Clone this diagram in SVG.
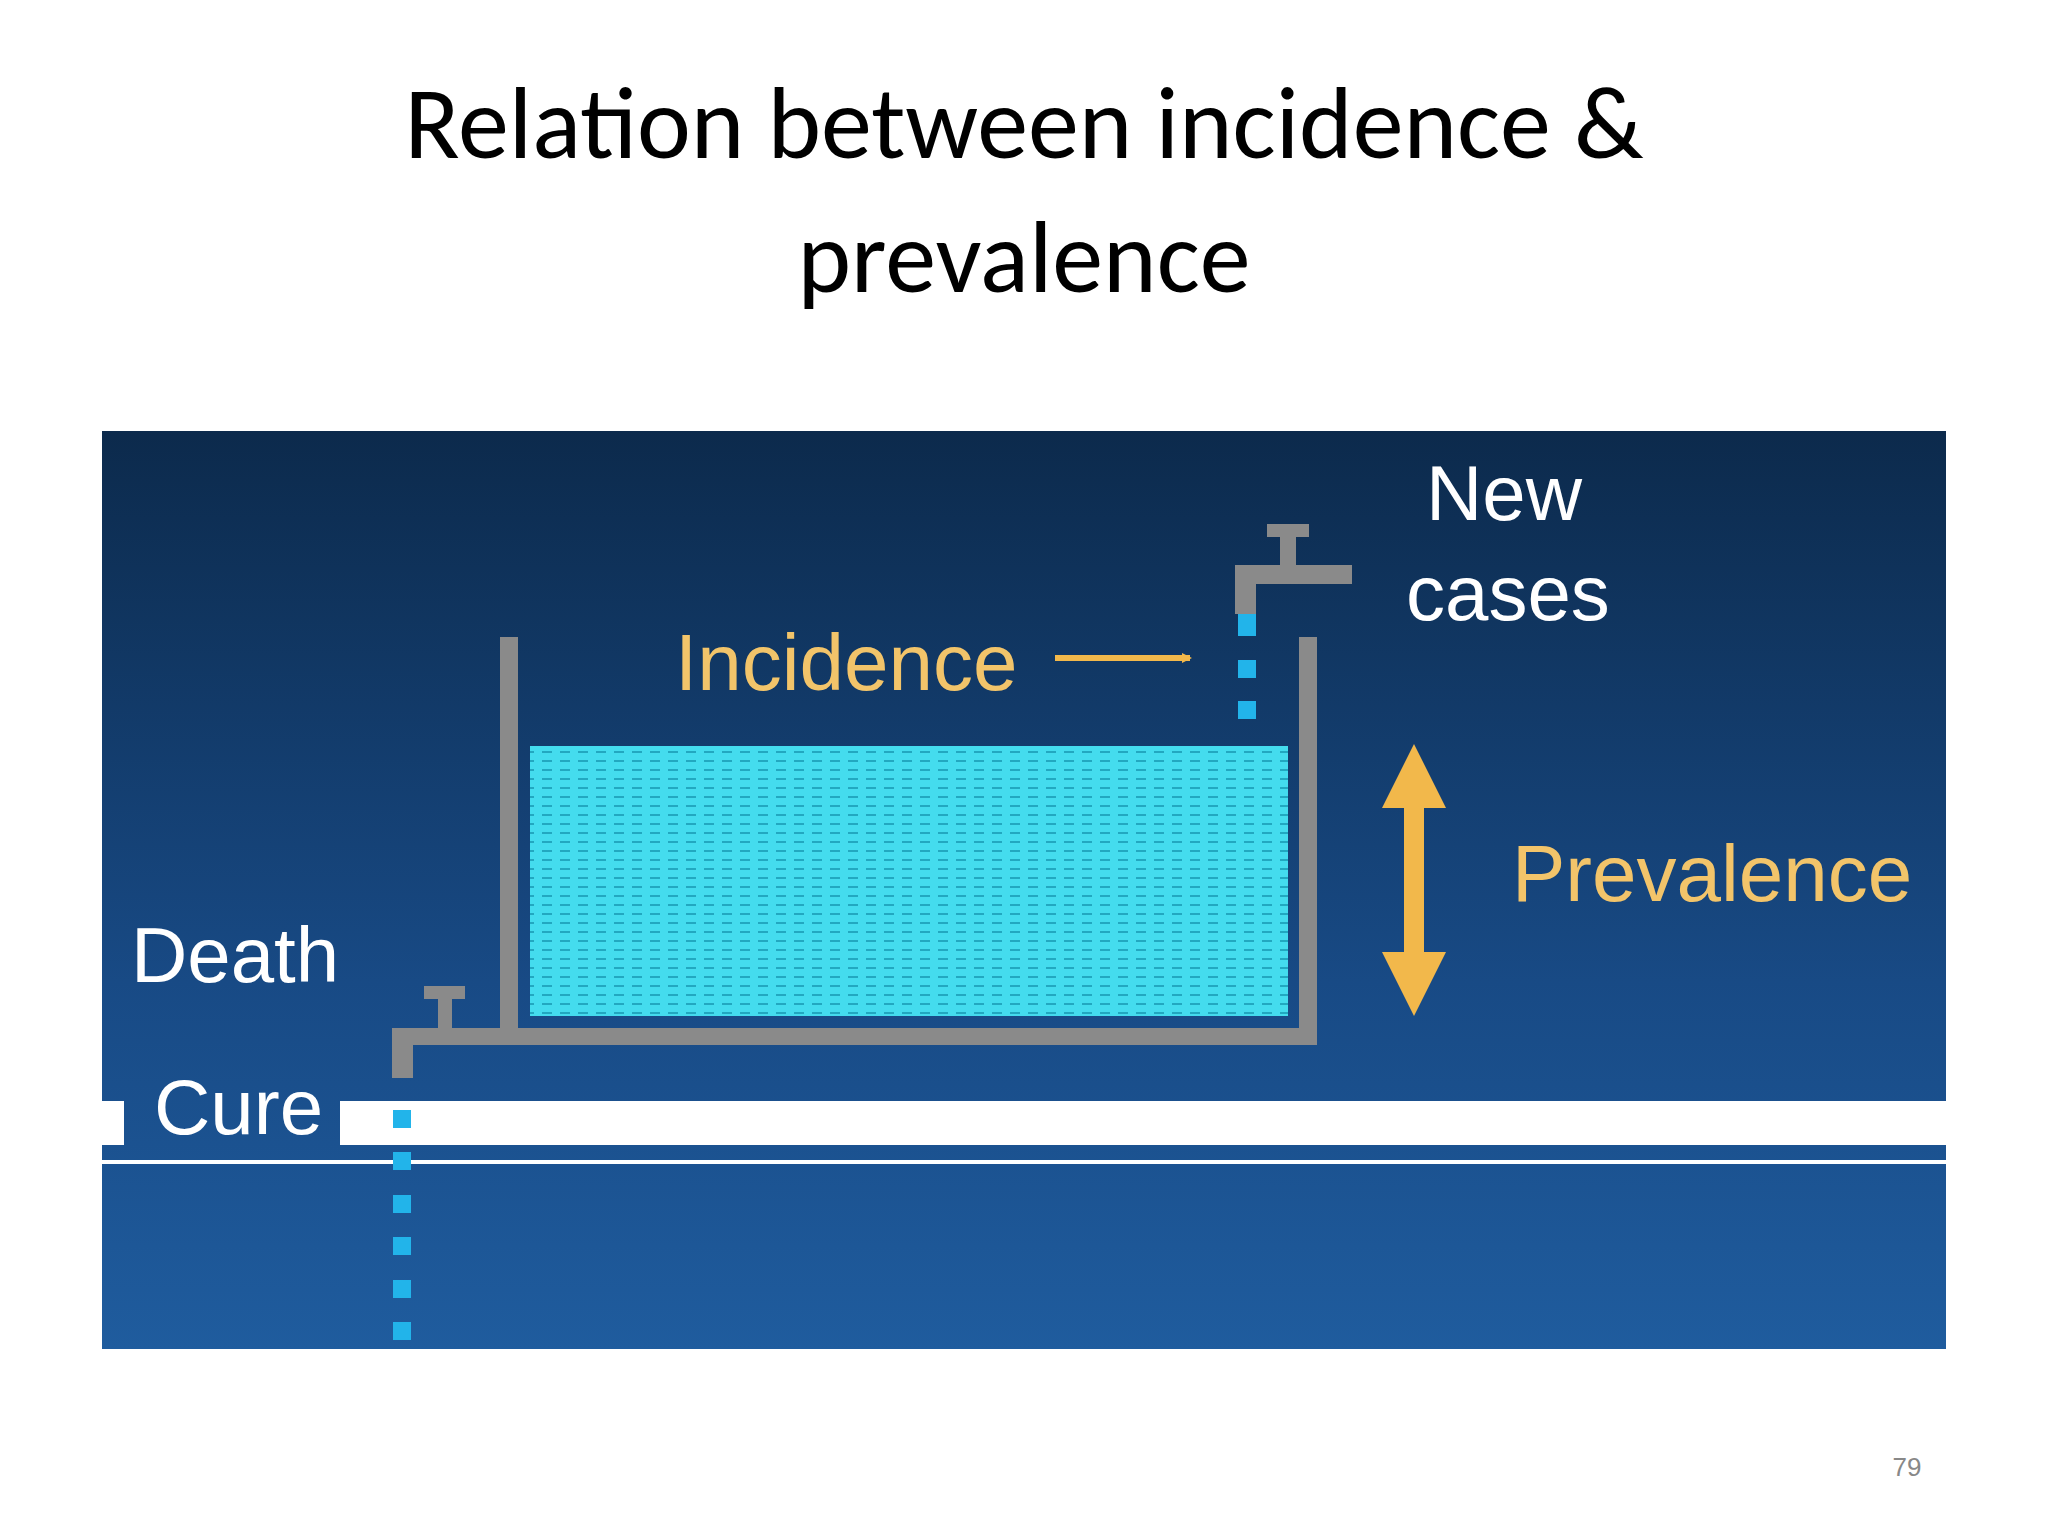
<svg xmlns="http://www.w3.org/2000/svg" width="2048" height="1536" viewBox="0 0 2048 1536">
<defs>
<linearGradient id="bg" x1="0" y1="0" x2="0" y2="1"><stop offset="0" stop-color="#0c2a4c"/><stop offset="0.6" stop-color="#184a85"/><stop offset="1" stop-color="#1f5c9e"/></linearGradient>
<pattern id="wave" width="18" height="9" patternUnits="userSpaceOnUse"><rect width="18" height="9" fill="#44dcee"/><rect x="2" y="4" width="10" height="2" fill="#22a8c0"/></pattern>
<marker id="ah" markerWidth="10" markerHeight="10" refX="8" refY="5" orient="auto" markerUnits="userSpaceOnUse"><path d="M0,0 L10,5 L0,10 Z" fill="#f2b84b"/></marker>
<style>
.t{font-family:"Liberation Sans","Open Sans",sans-serif;}
.ttl{font-family:Carlito,"Open Sans","Liberation Sans",sans-serif;font-size:102px;fill:#000;text-anchor:middle}
.w{fill:#fff;font-size:78px}
.y{fill:#f2c46a;font-size:80px}
.pipe{fill:#8a8a8a}
.drop{fill:#22b4ea}
</style>
</defs>
<rect width="2048" height="1536" fill="#fff"/>
<text class="ttl" x="1024" y="158">Relation between incidence &amp;</text>
<text class="ttl" x="1024" y="292">prevalence</text>
<g id="panel">
<rect x="102" y="431" width="1844" height="918" fill="url(#bg)"/>
<rect x="340" y="1101" width="1606" height="44" fill="#fff"/>
<rect x="102" y="1101" width="22" height="44" fill="#fff"/>
<rect x="102" y="1160" width="1844" height="4" fill="#fff"/>
</g>
<g id="tank">
<rect x="530" y="746" width="758" height="270" fill="url(#wave)"/>
<rect class="pipe" x="500" y="637" width="18" height="408"/>
<rect class="pipe" x="1299" y="637" width="18" height="408"/>
<rect class="pipe" x="392" y="1028" width="925" height="17"/>
<rect class="pipe" x="392" y="1028" width="21" height="50"/>
<rect class="pipe" x="424" y="986" width="41" height="13"/>
<rect class="pipe" x="438" y="999" width="14" height="29"/>
</g>
<g id="faucet">
<rect class="pipe" x="1235" y="565" width="117" height="19"/>
<rect class="pipe" x="1235" y="565" width="21" height="49"/>
<rect class="drop" x="1238" y="614" width="18" height="22"/>
<rect class="pipe" x="1267" y="524" width="42" height="13"/>
<rect class="pipe" x="1280" y="537" width="16" height="28"/>
<rect class="drop" x="1238" y="660" width="18" height="18"/>
<rect class="drop" x="1238" y="701" width="18" height="18"/>
</g>
<g id="outflow">
<rect class="drop" x="393" y="1110" width="18" height="18"/>
<rect class="drop" x="393" y="1152" width="18" height="18"/>
<rect class="drop" x="393" y="1195" width="18" height="18"/>
<rect class="drop" x="393" y="1237" width="18" height="18"/>
<rect class="drop" x="393" y="1280" width="18" height="18"/>
<rect class="drop" x="393" y="1322" width="18" height="18"/>
</g>
<g id="labels">
<text class="t y" x="675" y="690">Incidence</text>
<text class="t w" x="1426" y="520">New</text>
<text class="t w" x="1406" y="620">cases</text>
<text class="t y" x="1512" y="901">Prevalence</text>
<text class="t w" x="131" y="982">Death</text>
<text class="t w" x="154" y="1134">Cure</text>
</g>
<g id="connectors">
<line x1="1055" y1="658" x2="1190" y2="658" stroke="#f2b84b" stroke-width="6" marker-end="url(#ah)"/>
<path d="M1414,744 L1446,808 L1424,808 L1424,952 L1446,952 L1414,1016 L1382,952 L1404,952 L1404,808 L1382,808 Z" fill="#f2b84b"/>
</g>
<text class="t" x="1907" y="1476" font-size="26" fill="#888" text-anchor="middle">79</text>
</svg>
